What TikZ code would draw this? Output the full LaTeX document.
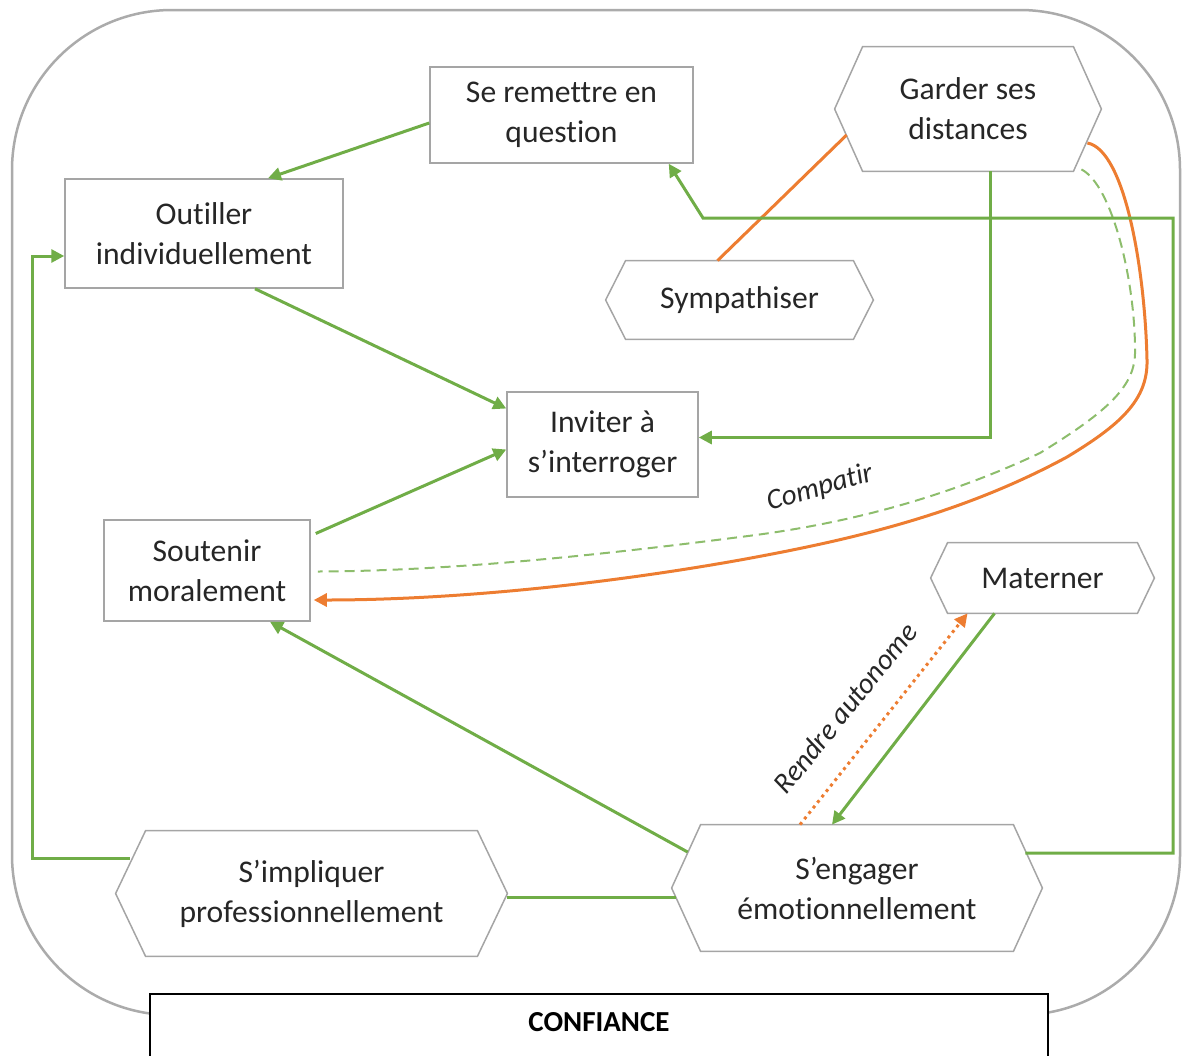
\documentclass[tikz,border=0pt]{standalone}
\usepackage{fontspec}
\setmainfont{Carlito}[Ligatures=NoCommon]
\usetikzlibrary{arrows.meta,calc}
\definecolor{gr}{HTML}{70AD47}
\definecolor{og}{HTML}{ED7D31}
\definecolor{bx}{HTML}{A5A5A5}
\definecolor{outer}{HTML}{ABABAB}
\definecolor{txt}{HTML}{262626}
\newcommand\hexdraw[2]{\draw[boxline] (#1.west) -- ($(#1.north west)+(#2,0)$) -- ($(#1.north east)+(-#2,0)$) -- (#1.east) -- ($(#1.south east)+(-#2,0)$) -- ($(#1.south west)+(#2,0)$) -- cycle;}
\begin{document}
\begin{tikzpicture}[x=0.5pt,y=-0.5pt,
  lbl/.style={font=\fontsize{15.8}{20}\selectfont, text=txt, align=center, inner sep=0pt},
  boxline/.style={draw=bx, line width=0.75pt},
  rbox/.style={lbl, boxline},
  hbox/.style={lbl},
  tip/.style={-{Triangle[length=6.5pt,width=6.5pt]}},
  gline/.style={draw=gr, line width=1.5pt},
  garr/.style={gline, tip},
  oline/.style={draw=og, line width=1.5pt},
  itl/.style={font=\itshape\fontsize{14.5}{17}\selectfont, text=txt, inner sep=0pt}]
\useasboundingbox (0,0) rectangle (1182,1055);
% outer frame
\draw[draw=outer, line width=1.25pt, rounded corners=80pt] (12,10) rectangle (1180,1015);

% nodes
\node[rbox, minimum width=131.5pt, minimum height=48pt] (se) at (561.5,115) {Se remettre en\\question};
\node[rbox, minimum width=139pt, minimum height=54.5pt] (out) at (204,233.5) {Outiller\\individuellement};
\node[hbox, minimum width=133pt, minimum height=62pt] (gar) at (968,109) {Garder ses\\distances};
\node[hbox, minimum width=133.5pt, minimum height=39pt] (sym) at (739.5,300) {Sympathiser};
\node[rbox, minimum width=95.5pt, minimum height=52.5pt] (inv) at (602.5,444.5) {Inviter à\\s’interroger};
\node[rbox, minimum width=103pt, minimum height=50.5pt] (sou) at (207,570.5) {Soutenir\\moralement};
\node[hbox, minimum width=111.5pt, minimum height=35pt] (mat) at (1042.5,578) {Materner};
\node[hbox, minimum width=195.5pt, minimum height=62.5pt] (imp) at (311.5,893.5) {S’impliquer\\professionnellement};
\node[hbox, minimum width=185pt, minimum height=63pt] (eng) at (857,888) {S’engager\\émotionnellement};
\hexdraw{gar}{28}
\hexdraw{sym}{20}
\hexdraw{mat}{17}
\hexdraw{imp}{30}
\hexdraw{eng}{29}

% connectors
\draw[garr] ($(se.west)+(0,8)$) -- ($(out.north)+(64,0)$);
\draw[garr] ($(out.south)+(51,0)$) -- ($(inv.west)+(0,-36)$);
\draw[garr] ($(sou.east)+(5,-37)$) -- ($(inv.west)+(0,5)$);
\draw[garr] ($(gar.south)+(22,0)$) |- ($(inv.east)+(0,-7)$);
\draw[oline] ($(sym.north)+(-22,0)$) -- ($(gar.west)+(12,26)$);
% orange curve
\draw[oline, tip] ($(gar.east)+(-14,34)$) .. controls (1125,150) and (1145,270) .. (1147,360)
  .. controls (1148,400) and (1120,425) .. (1067,457)
  .. controls (960,515) and (850,540) .. (740,560)
  .. controls (600,585) and (450,600) .. ($(sou.east)+(3,29.5)$);
% dashed curve
\draw[draw=gr!80, line width=1pt, dash pattern=on 5pt off 3pt] ($(gar.south east)+(-20,-2)$) .. controls (1112,185) and (1135,280) .. (1135,350)
  .. controls (1136,385) and (1110,410) .. (1040,453)
  .. controls (940,500) and (840,525) .. (740,537)
  .. controls (600,555) and (450,571) .. ($(sou.east)+(7,1)$);
\node[itl, rotate=16] (comp) at (820,488) {Compatir};
% from S'engager to Se remettre
\coordinate (b1) at (1173,853);
\coordinate (b2) at (1173,218);
\coordinate (b3) at (703,218);
\draw[garr] ($(eng.east)+(-17,-35)$) -- (b1) -- (b2) -- (b3) -- ($(se.south east)+(-25,0)$);
% from S'impliquer to Outiller
\coordinate (c1) at (32,858);
\draw[garr] ($(imp.west)+(14,-35.5)$) -- (c1) |- ($(out.west)+(0,22.5)$);
\draw[gline] ($(imp.east)+(0,3.5)$) -- ($(eng.west)+(4,9)$);
\draw[garr] ($(eng.west)+(16,-36)$) -- ($(sou.south)+(63,0)$);
\draw[garr] ($(mat.south)+(-48,0)$) -- ($(eng.north)+(-25,0)$);
\draw[draw=og, line width=1.5pt, dash pattern=on 1.5pt off 2pt, tip] ($(eng.north)+(-57,0)$) -- ($(mat.south)+(-75,0)$);
\node[itl, rotate=51] (rend) at (845,708) {Rendre autonome};

% confiance box
\draw[fill=white, draw=black, line width=1pt] (150,994) rectangle (1048,1075);
\node[font=\bfseries\fontsize{14.5}{17}\selectfont, inner sep=0pt] (conf) at (599,1022) {CONFIANCE};
\end{tikzpicture}
\end{document}
